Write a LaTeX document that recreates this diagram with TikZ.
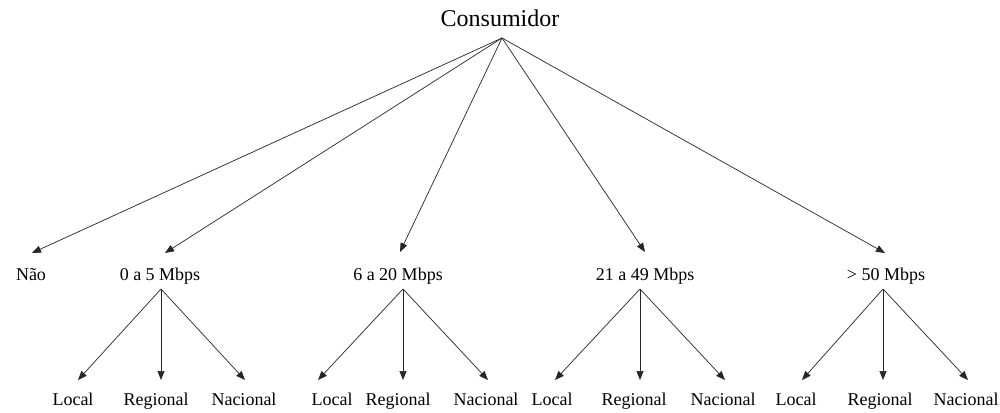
\documentclass[tikz,border=0pt]{standalone}
\usepackage{fontspec}
\setmainfont{Liberation Serif}
\usetikzlibrary{arrows.meta}
\begin{document}
\begin{tikzpicture}[x=1pt,y=-1pt,
  lbl/.style={anchor=base,inner sep=0pt,font=\fontsize{18}{20}\selectfont},
  toplbl/.style={anchor=base,inner sep=0pt,font=\fontsize{24}{26}\selectfont},
  arr/.style={draw=black!85,line width=0.7pt,-{Triangle[length=9pt,width=7pt]}}]
\useasboundingbox[fill=white] (0,0) rectangle (1000,412);
% top
\node[toplbl] (cons) at (500,27) {Consumidor};
\coordinate (apex) at (502,38);
% level 2
\node[lbl] (nao) at (31,280) {Não};
\node[lbl] (g1) at (160,280) {0 a 5 Mbps};
\node[lbl] (g2) at (398,280) {6 a 20 Mbps};
\node[lbl] (g3) at (645,280) {21 a 49 Mbps};
\node[lbl] (g4) at (886,280) {> 50 Mbps};
\coordinate (tnao) at (32,253);
\coordinate (tg1) at (165,253);
\coordinate (tg2) at (400,252);
\coordinate (tg3) at (645,252);
\coordinate (tg4) at (885,253);
\foreach \t in {tnao,tg1,tg2,tg3,tg4} \draw[arr] (apex) -- (\t);
% level 3
\foreach \g/\ax/\lx/\mx/\rx/\llx/\lmx/\lrx in {
  g1/161/78/161/245/73/156/244,
  g2/403/318/403/488/332/398/486,
  g3/640/555/640/725/552/634/723,
  g4/883/802/883/968/796/880/966}{
  \coordinate (\g a) at (\ax,289);
  \coordinate (\g tl) at (\lx,380);
  \coordinate (\g tm) at (\mx,380);
  \coordinate (\g tr) at (\rx,380);
  \node[lbl] (\g l) at (\llx,405) {Local};
  \node[lbl] (\g m) at (\lmx,405) {Regional};
  \node[lbl] (\g r) at (\lrx,405) {Nacional};
  \draw[arr] (\g a) -- (\g tl);
  \draw[arr] (\g a) -- (\g tm);
  \draw[arr] (\g a) -- (\g tr);
}
\end{tikzpicture}
\end{document}
